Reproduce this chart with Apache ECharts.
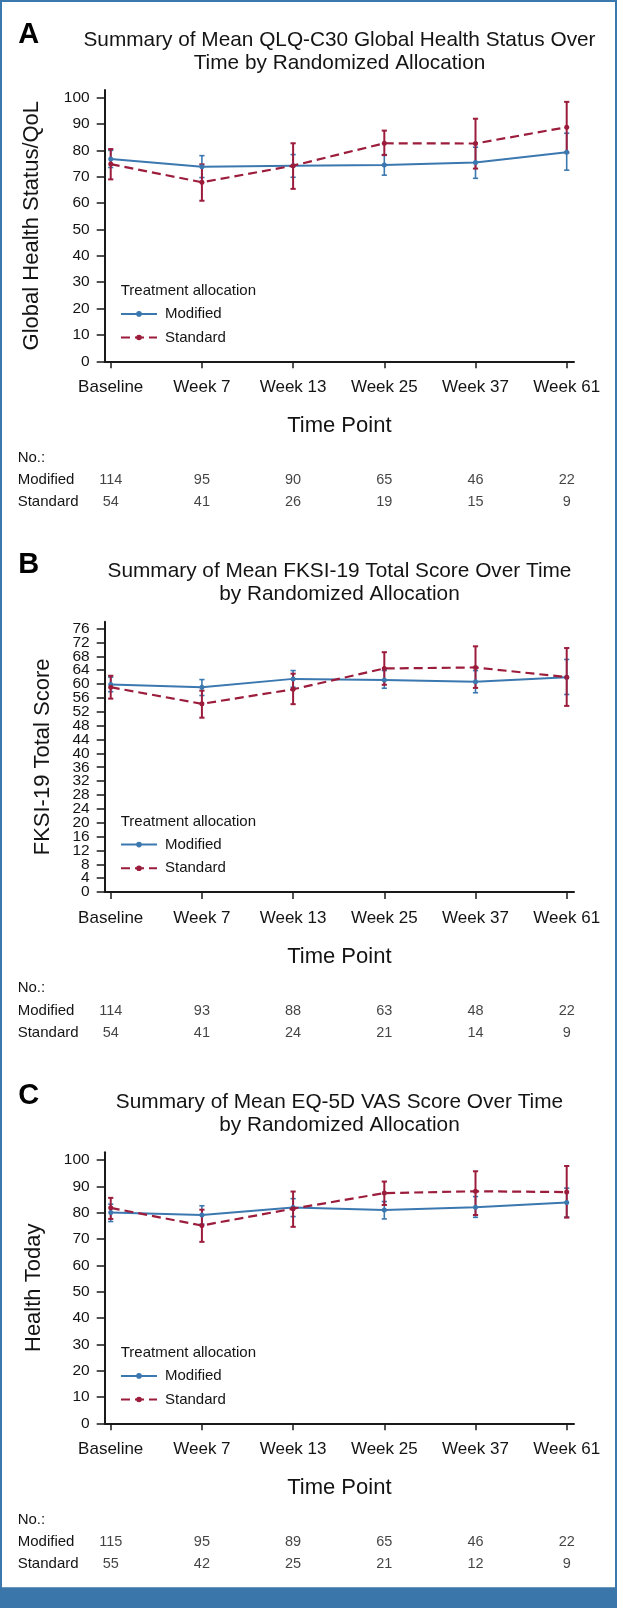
<!DOCTYPE html>
<html>
<head>
<meta charset="utf-8">
<script src="https://cdn.jsdelivr.net/npm/echarts@6/dist/echarts.min.js"></script>
<style>
html,body{margin:0;padding:0;background:#fff;}
#chart{width:617px;height:1608px;}
</style>
</head>
<body>
<div id="chart"></div>
<script>
// ---------- DATA ----------
const categories = ['Baseline', 'Week 7', 'Week 13', 'Week 25', 'Week 37', 'Week 61'];
const seriesNames = ['Modified', 'Standard'];

const panelLetters = ['A', 'B', 'C'];
const panelTitles = [
  'Summary of Mean QLQ-C30 Global Health Status Over\nTime by Randomized Allocation',
  'Summary of Mean FKSI-19 Total Score Over Time\nby Randomized Allocation',
  'Summary of Mean EQ-5D VAS Score Over Time\nby Randomized Allocation'
];
const yAxisNames = ['Global Health Status/QoL', 'FKSI-19 Total Score', 'Health Today'];
const xAxisName = 'Time Point';
const legendTitle = 'Treatment allocation';
const tableTitle = 'No.:';

const aTicks = [0, 10, 20, 30, 40, 50, 60, 70, 80, 90, 100];
const bTicks = [0, 4, 8, 12, 16, 20, 24, 28, 32, 36, 40, 44, 48, 52, 56, 60, 64, 68, 72, 76];
const cTicks = [0, 10, 20, 30, 40, 50, 60, 70, 80, 90, 100];

// Panel A: QLQ-C30
const aModMean = [76.7, 73.8, 74.2, 74.5, 75.4, 79.3];
const aModLow  = [73.5, 69.7, 69.8, 70.6, 69.4, 72.5];
const aModHigh = [80.0, 78.0, 78.4, 78.4, 81.2, 86.5];
const aStdMean = [74.8, 67.9, 74.2, 82.7, 82.6, 88.8];
const aStdLow  = [69.0, 60.9, 65.4, 78.2, 73.1, 79.2];
const aStdHigh = [80.5, 74.7, 82.7, 87.5, 92.0, 98.4];
const aModN = [114, 95, 90, 65, 46, 22];
const aStdN = [54, 41, 26, 19, 15, 9];

// Panel B: FKSI-19
const bModMean = [59.9, 59.1, 61.5, 61.2, 60.7, 62.0];
const bModLow  = [57.8, 56.7, 59.1, 58.8, 57.5, 57.0];
const bModHigh = [62.0, 61.3, 63.9, 63.9, 63.9, 67.1];
const bStdMean = [59.1, 54.3, 58.5, 64.5, 64.8, 62.0];
const bStdLow  = [55.8, 50.3, 54.2, 59.8, 58.9, 53.7];
const bStdHigh = [62.4, 58.1, 63.0, 69.2, 70.9, 70.4];
const bModN = [114, 93, 88, 63, 48, 22];
const bStdN = [54, 41, 24, 21, 14, 9];

// Panel C: EQ-5D VAS
const cModMean = [80.0, 79.1, 81.9, 81.0, 82.0, 83.8];
const cModLow  = [76.6, 75.6, 78.5, 77.6, 78.2, 78.3];
const cModHigh = [83.2, 82.6, 85.3, 84.2, 86.1, 89.3];
const cStdMean = [81.8, 75.1, 81.5, 87.4, 88.1, 87.8];
const cStdLow  = [77.6, 68.9, 74.6, 82.9, 79.1, 78.1];
const cStdHigh = [85.6, 81.1, 88.0, 91.8, 95.7, 97.7];
const cModN = [115, 95, 89, 65, 46, 22];
const cStdN = [55, 42, 25, 21, 12, 9];

// ---------- LAYOUT / STYLE ----------
const FONT = '"Liberation Sans", Arial, Helvetica, sans-serif';
const BLUE = '#3b78b0';
const RED = '#9c1c3c';
const AXIS = '#1a1a1a';
const TXT = '#141414';

const panels = [
  {letter: panelLetters[0], title: panelTitles[0], yName: yAxisNames[0], ticks: aTicks, yMax: 102.9, nameGap: 62,
   mod: [aModMean, aModLow, aModHigh], std: [aStdMean, aStdLow, aStdHigh], modN: aModN, stdN: aStdN,
   top: 90, axisY: 361.3, letterY: 35.3, titleY: 51.5},
  {letter: panelLetters[1], title: panelTitles[1], yName: yAxisNames[1], ticks: bTicks, yMax: 78.0, nameGap: 51,
   mod: [bModMean, bModLow, bModHigh], std: [bStdMean, bStdLow, bStdHigh], modN: bModN, stdN: bStdN,
   top: 621.7, axisY: 892, letterY: 565, titleY: 582.5},
  {letter: panelLetters[2], title: panelTitles[2], yName: yAxisNames[2], ticks: cTicks, yMax: 102.9, nameGap: 60,
   mod: [cModMean, cModLow, cModHigh], std: [cStdMean, cStdLow, cStdHigh], modN: cModN, stdN: cStdN,
   top: 1152.3, axisY: 1423.3, letterY: 1095.8, titleY: 1114}
];

const GRID_LEFT = 104.7, GRID_RIGHT = 43;
const X_MIN = -0.066, X_MAX = 5.08;
const xIdx = categories.map((c, i) => i);

function errRender(color, width) {
  return function (params, api) {
    const x = api.value(0), lo = api.value(1), hi = api.value(2);
    const p1 = api.coord([x, lo]), p2 = api.coord([x, hi]);
    const hw = 2.6;
    const st = {stroke: color, lineWidth: width};
    return {type: 'group', children: [
      {type: 'line', shape: {x1: p1[0], y1: p1[1], x2: p2[0], y2: p2[1]}, style: st},
      {type: 'line', shape: {x1: p1[0] - hw, y1: p1[1], x2: p1[0] + hw, y2: p1[1]}, style: st},
      {type: 'line', shape: {x1: p2[0] - hw, y1: p2[1], x2: p2[0] + hw, y2: p2[1]}, style: st}
    ]};
  };
}

const grids = [], xAxes = [], yAxes = [], series = [], legends = [], graphics = [];

panels.forEach((p, k) => {
  const gi = grids.length;
  const xi = xAxes.length;
  const yi = yAxes.length;
  const evenTicks = p.ticks.filter((t, i) => i % 2 === 0);
  const oddTicks = p.ticks.filter((t, i) => i % 2 === 1);
  grids.push({left: GRID_LEFT, right: GRID_RIGHT, top: p.top, height: p.axisY - p.top, outerBoundsMode: 'none', containLabel: false});
  xAxes.push({
    gridIndex: gi, type: 'value', min: X_MIN, max: X_MAX,
    axisLine: {show: true, onZero: false, lineStyle: {color: AXIS, width: 2}},
    axisTick: {show: true, customValues: xIdx, length: 7, lineStyle: {color: AXIS, width: 1.5}},
    axisLabel: {customValues: xIdx, formatter: v => categories[Math.round(v)], margin: 18, fontSize: 17, color: TXT, fontFamily: FONT,
      showMinLabel: true, showMaxLabel: true, hideOverlap: false},
    splitLine: {show: false},
    name: xAxisName, nameLocation: 'middle', nameGap: 54,
    nameTextStyle: {fontSize: 22, color: TXT, fontFamily: FONT}
  });
  yAxes.push({
    gridIndex: gi, type: 'value', min: 0, max: p.yMax, position: 'left', offset: 0,
    axisLine: {show: true, onZero: false, lineStyle: {color: AXIS, width: 2}},
    axisTick: {show: true, customValues: p.ticks, length: 8, lineStyle: {color: AXIS, width: 1.5}},
    axisLabel: {customValues: evenTicks, margin: 15, fontSize: 15.5, color: TXT, fontFamily: FONT,
      showMinLabel: true, showMaxLabel: true, hideOverlap: false},
    splitLine: {show: false},
    name: p.yName, nameLocation: 'middle', nameGap: p.nameGap,
    nameTextStyle: {fontSize: 22, color: TXT, fontFamily: FONT}
  });
  yAxes.push({
    gridIndex: gi, type: 'value', min: 0, max: p.yMax, position: 'left', offset: 0,
    axisLine: {show: false, onZero: false}, axisTick: {show: false},
    axisLabel: {customValues: oddTicks, margin: 15, fontSize: 15.5, color: TXT, fontFamily: FONT,
      showMinLabel: true, showMaxLabel: true, hideOverlap: false},
    splitLine: {show: false}
  });
  // error bars
  series.push({
    type: 'custom', name: 'Modified CI ' + p.letter, xAxisIndex: xi, yAxisIndex: yi,
    data: xIdx.map(i => [i, p.mod[1][i], p.mod[2][i]]),
    renderItem: errRender(BLUE, 1.6), z: 3, silent: true
  });
  series.push({
    type: 'custom', name: 'Standard CI ' + p.letter, xAxisIndex: xi, yAxisIndex: yi,
    data: xIdx.map(i => [i, p.std[1][i], p.std[2][i]]),
    renderItem: errRender(RED, 2), z: 3, silent: true
  });
  series.push({
    type: 'line', name: seriesNames[0], xAxisIndex: xi, yAxisIndex: yi,
    data: xIdx.map(i => [i, p.mod[0][i]]),
    symbol: 'circle', symbolSize: 5, showSymbol: true,
    lineStyle: {color: BLUE, width: 2}, itemStyle: {color: BLUE}, z: 4, animation: false
  });
  series.push({
    type: 'line', name: seriesNames[1], xAxisIndex: xi, yAxisIndex: yi,
    data: xIdx.map(i => [i, p.std[0][i]]),
    symbol: 'circle', symbolSize: 5, showSymbol: true,
    lineStyle: {color: RED, width: 2.2, type: [9, 5]}, itemStyle: {color: RED}, z: 5, animation: false
  });
  legends.push({
    data: seriesNames, orient: 'vertical', left: 120, top: p.axisY - 54.9,
    itemWidth: 36, itemHeight: 7, itemGap: 8.6, padding: 0,
    textStyle: {fontSize: 15, color: TXT, fontFamily: FONT, padding: [0, 0, 0, 3]},
    selectedMode: false
  });
  graphics.push({type: 'text', x: 120.7, y: p.axisY - 70.3,
    style: {text: legendTitle, font: '15px ' + FONT, fill: TXT, verticalAlign: 'middle'}});
  graphics.push({type: 'text', x: 18.3, y: p.letterY,
    style: {text: p.letter, font: 'bold 29px ' + FONT, fill: '#000', verticalAlign: 'middle'}});
  graphics.push({type: 'text', x: 339.5, y: p.titleY,
    style: {text: p.title, font: '20.8px ' + FONT, fill: TXT, align: 'center', verticalAlign: 'middle', lineHeight: 23}});
  graphics.push({type: 'text', x: 17.7, y: p.axisY + 96.2,
    style: {text: tableTitle, font: '15px ' + FONT, fill: TXT, verticalAlign: 'middle'}});

  // numbers table
  const ti = grids.length;
  const txi = xAxes.length;
  const tyi = yAxes.length;
  grids.push({left: GRID_LEFT, right: GRID_RIGHT, top: p.axisY + 107.3, height: 45, outerBoundsMode: 'none', containLabel: false});
  xAxes.push({gridIndex: ti, type: 'value', min: X_MIN, max: X_MAX, show: false});
  yAxes.push({
    gridIndex: ti, type: 'category', data: [seriesNames[1], seriesNames[0]],
    axisLine: {show: false}, axisTick: {show: false}, splitLine: {show: false},
    axisLabel: {align: 'left', margin: 87, fontSize: 15, color: TXT, fontFamily: FONT}
  });
  const rowSeries = [[1, p.modN], [0, p.stdN]];
  rowSeries.forEach(([row, arr], r) => {
    series.push({
      type: 'scatter', name: 'N ' + seriesNames[r] + ' ' + p.letter, xAxisIndex: txi, yAxisIndex: tyi,
      data: xIdx.map(i => [i, row, arr[i]]),
      symbolSize: 1, itemStyle: {color: 'rgba(0,0,0,0)'}, silent: true,
      label: {show: true, position: 'inside', formatter: q => String(q.value[2]), fontSize: 14.5, color: TXT, fontFamily: FONT}
    });
  });
});

// frame
graphics.push({type: 'rect', shape: {x: 0, y: 0, width: 617, height: 2}, style: {fill: '#3a78ad'}});
graphics.push({type: 'rect', shape: {x: 0, y: 0, width: 2, height: 1608}, style: {fill: '#3a78ad'}});
graphics.push({type: 'rect', shape: {x: 615, y: 0, width: 2, height: 1608}, style: {fill: '#3a78ad'}});
graphics.push({type: 'rect', shape: {x: 0, y: 1587.3, width: 617, height: 21}, style: {fill: '#3a76aa'}});

const chart = echarts.init(document.getElementById('chart'), null, {renderer: 'canvas'});
chart.setOption({
  animation: false,
  backgroundColor: '#ffffff',
  textStyle: {fontFamily: FONT},
  grid: grids, xAxis: xAxes, yAxis: yAxes, legend: legends, series: series,
  graphic: {elements: graphics}
});
</script>
</body>
</html>
